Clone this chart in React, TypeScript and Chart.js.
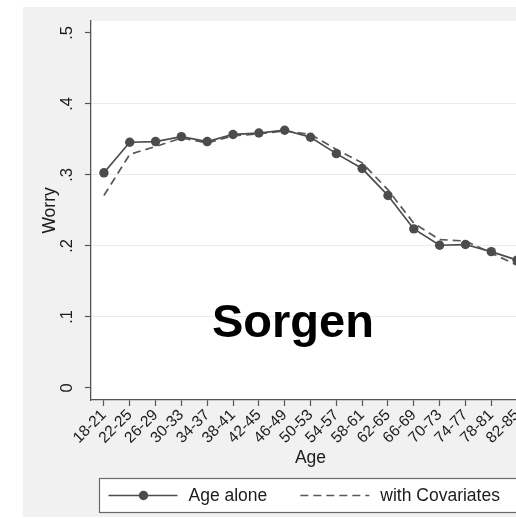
import React, { useEffect, useRef } from 'react';
import { Chart, registerables } from 'chart.js';

Chart.register(...registerables);

// Age groups on the x axis
const ageGroups = [
  '18-21', '22-25', '26-29', '30-33', '34-37', '38-41', '42-45', '46-49',
  '50-53', '54-57', '58-61', '62-65', '66-69', '70-73', '74-77', '78-81', '82-85',
];

// Predicted worry by age group
const ageAlone = [
  0.303, 0.346, 0.347, 0.354, 0.347, 0.357, 0.359, 0.363,
  0.353, 0.330, 0.309, 0.271, 0.224, 0.201, 0.202, 0.192, 0.180,
];
const withCovariates = [
  0.271, 0.329, 0.340, 0.352, 0.345, 0.355, 0.358, 0.362,
  0.357, 0.336, 0.317, 0.279, 0.232, 0.209, 0.207, 0.190, 0.173,
];

const yTickValues = [0, 0.1, 0.2, 0.3, 0.4, 0.5];
const yTickLabels = ['0', '.1', '.2', '.3', '.4', '.5'];
const seriesNames = ['Age alone', 'with Covariates'];
const panelTitle = 'Sorgen';
const xAxisTitle = 'Age';
const yAxisTitle = 'Worry';

const FONT = "'Liberation Sans', Arial, Helvetica, sans-serif";
const LINE = '#4c4c4c';
const DASH = '#585858';
const AXIS = '#555555';
const GRID = '#ebebeb';
const TEXT = '#1c1c1c';
const OUTER = '#f1f1f1';

const CANVAS_W = 545;
const CANVAS_H = 518;

// Grey graph region with a white plot region on top
const backgroundPlugin = {
  id: 'graphRegion',
  beforeDraw(chart: any) {
    const { ctx, chartArea } = chart;
    ctx.save();
    ctx.fillStyle = '#ffffff';
    ctx.fillRect(0, 0, chart.width, chart.height);
    ctx.fillStyle = OUTER;
    ctx.fillRect(23, 7, chart.width - 23, 510);
    ctx.fillStyle = '#ffffff';
    ctx.fillRect(chartArea.left, chartArea.top, chartArea.right - chartArea.left, chartArea.bottom - chartArea.top);
    ctx.restore();
  },
};

// Large caption inside the plot
const captionPlugin = {
  id: 'panelCaption',
  afterDatasetsDraw(chart: any) {
    const { ctx, chartArea, scales } = chart;
    const cx = chartArea.left + 0.46 * (chartArea.right - chartArea.left);
    const base = scales.y.getPixelForValue(0.072);
    ctx.save();
    ctx.font = `bold 47px ${FONT}`;
    ctx.fillStyle = '#000000';
    ctx.textAlign = 'center';
    ctx.textBaseline = 'alphabetic';
    ctx.fillText(panelTitle, cx, base);
    ctx.restore();
  },
};

// Boxed legend below the axis title
const legendPlugin = {
  id: 'boxedLegend',
  afterDraw(chart: any) {
    const { ctx, chartArea } = chart;
    const left = chartArea.left + 8.5;
    const top = chartArea.bottom + 78.5;
    const right = chartArea.right - 9.5;
    const h = 34;
    const midY = top + h / 2;
    ctx.save();
    ctx.fillStyle = '#ffffff';
    ctx.fillRect(left, top, right - left, h);
    ctx.strokeStyle = '#6a6a6a';
    ctx.lineWidth = 1.2;
    ctx.strokeRect(left, top, right - left, h);

    ctx.font = `17.5px ${FONT}`;
    ctx.textBaseline = 'middle';
    ctx.textAlign = 'left';
    let x = left + 9;
    chart.data.datasets.forEach((ds: any) => {
      ctx.save();
      ctx.strokeStyle = ds.borderColor;
      ctx.lineWidth = ds.borderWidth;
      ctx.setLineDash(ds.borderDash || []);
      ctx.beginPath();
      ctx.moveTo(x, midY);
      ctx.lineTo(x + 69, midY);
      ctx.stroke();
      if (ds.pointRadius > 0) {
        ctx.fillStyle = ds.pointBackgroundColor;
        ctx.beginPath();
        ctx.arc(x + 35, midY, ds.pointRadius, 0, Math.PI * 2);
        ctx.fill();
      }
      ctx.restore();
      ctx.fillStyle = TEXT;
      ctx.fillText(ds.label, x + 80, midY + 1);
      x += 80 + ctx.measureText(ds.label).width + 33;
    });
    ctx.restore();
  },
};

export default function App() {
  const canvasRef = useRef<HTMLCanvasElement | null>(null);

  useEffect(() => {
    const canvas = canvasRef.current;
    if (!canvas) return;
    const chart = new Chart(canvas, {
      type: 'line',
      data: {
        labels: ageGroups,
        datasets: [
          {
            label: seriesNames[0],
            data: ageAlone,
            borderColor: LINE,
            backgroundColor: LINE,
            borderWidth: 1.7,
            pointRadius: 4.7,
            pointBackgroundColor: LINE,
            pointBorderWidth: 0,
            pointHoverRadius: 4.7,
            tension: 0,
          },
          {
            label: seriesNames[1],
            data: withCovariates,
            borderColor: DASH,
            backgroundColor: DASH,
            borderWidth: 1.7,
            borderDash: [8, 5],
            pointRadius: 0,
            pointHoverRadius: 0,
            tension: 0,
          },
        ],
      },
      options: {
        responsive: false,
        animation: false,
        events: [],
        layout: { padding: { left: 23, top: 20, right: CANVAS_W - 530, bottom: 48 } },
        plugins: {
          legend: { display: false },
          tooltip: { enabled: false },
          title: { display: false },
        },
        scales: {
          x: {
            type: 'category',
            offset: true,
            grid: {
              drawOnChartArea: false,
              drawTicks: true,
              tickLength: 6,
              tickColor: AXIS,
              tickWidth: 1.2,
            },
            border: { display: true, color: AXIS, width: 1.3 },
            ticks: {
              autoSkip: false,
              minRotation: 45,
              maxRotation: 45,
              padding: 0,
              color: TEXT,
              font: { family: FONT, size: 15.5 },
            },
            title: {
              display: true,
              text: xAxisTitle,
              color: TEXT,
              font: { family: FONT, size: 17.5 },
              padding: { top: 0, bottom: 1.5 },
            },
            afterFit: (scale: any) => {
              scale.height = 70;
            },
          },
          y: {
            type: 'linear',
            min: -0.0169,
            max: 0.5169,
            afterBuildTicks: (scale: any) => {
              scale.ticks = yTickValues.map((v) => ({ value: v }));
            },
            grid: {
              color: (c: any) =>
                c.index === 0 || c.index === yTickValues.length - 1 ? 'rgba(0,0,0,0)' : GRID,
              lineWidth: 1,
              drawTicks: true,
              tickLength: 6,
              tickColor: AXIS,
              tickWidth: 1.2,
            },
            border: { display: true, color: AXIS, width: 1.3 },
            ticks: {
              minRotation: 90,
              maxRotation: 90,
              crossAlign: 'center',
              padding: 11,
              color: TEXT,
              font: { family: FONT, size: 16.5 },
              callback: (_v: any, i: number) => yTickLabels[i],
            },
            title: {
              display: true,
              text: yAxisTitle,
              color: TEXT,
              font: { family: FONT, size: 17.5 },
              padding: { top: 16.5, bottom: 0 },
            },
            afterFit: (scale: any) => {
              scale.width = 68;
            },
          },
        },
      } as any,
      plugins: [backgroundPlugin, captionPlugin, legendPlugin],
    });
    return () => chart.destroy();
  }, []);

  return (
    <div
      style={{
        position: 'fixed',
        left: 0,
        top: 0,
        width: 516,
        height: 518,
        overflow: 'hidden',
        background: '#ffffff',
      }}
    >
      <canvas
        ref={canvasRef}
        width={CANVAS_W}
        height={CANVAS_H}
        style={{ display: 'block', width: CANVAS_W, height: CANVAS_H }}
      />
    </div>
  );
}
